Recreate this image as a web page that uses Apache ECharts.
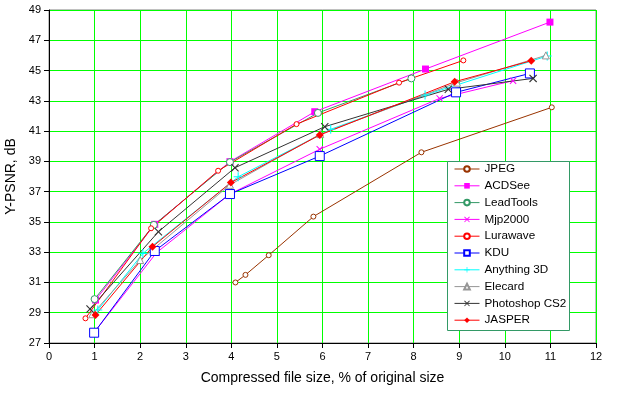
<!DOCTYPE html>
<html>
<head>
<meta charset="utf-8">
<script src="https://cdn.jsdelivr.net/npm/echarts@6/dist/echarts.min.js"></script>
<style>
    html, body { margin: 0; padding: 0; background: #fff; }
    #chart { width: 633px; height: 399px; }
</style>
</head>
<body>
<div id="chart"></div>
<script>
// 数据 (x: 压缩后大小 %, y: Y-PSNR dB)
var jpegX = [4.09, 4.31, 4.82, 5.8, 8.17, 11.03];
var jpegY = [31.0, 31.5, 32.8, 35.35, 39.6, 42.57];
var acdseeX = [1.02, 2.32, 3.97, 5.83, 8.26, 10.99];
var acdseeY = [29.84, 34.84, 38.98, 42.28, 45.1, 48.2];
var leadX = [1.0, 2.3, 3.97, 5.9, 7.95];
var leadY = [29.9, 34.8, 38.95, 42.2, 44.48];
var mjpX = [0.99, 2.36, 3.97, 5.94, 8.57, 10.18];
var mjpY = [27.7, 32.97, 36.84, 39.8, 43.16, 44.33];
var luraX = [0.8, 2.24, 3.71, 5.43, 7.68, 9.09];
var luraY = [28.63, 34.58, 38.38, 41.46, 44.2, 45.67];
var kduX = [0.99, 2.32, 3.97, 5.94, 8.93, 10.55];
var kduY = [27.68, 33.08, 36.84, 39.35, 43.56, 44.81];
var anyX = [1.07, 2.06, 4.15, 6.18, 8.25, 10.93];
var anyY = [29.18, 32.92, 37.98, 41.12, 43.38, 45.96];
var elecX = [0.95, 2.0, 3.97, 5.95, 8.95, 10.9];
var elecY = [28.9, 32.48, 37.45, 40.8, 44.2, 46.0];
var psX = [0.9, 2.4, 4.08, 6.05, 8.76, 10.62];
var psY = [29.25, 34.35, 38.58, 41.29, 43.76, 44.48];
var jasperX = [1.02, 2.27, 3.99, 5.94, 8.9, 10.58];
var jasperY = [28.85, 33.36, 37.6, 40.74, 44.26, 45.65];

var xTicks = [0, 12, 1];
var yTicks = [27, 49, 2];

// 符号
var crossPath = 'path://M0,1L1,0L5,4L9,0L10,1L6,5L10,9L9,10L5,6L1,10L0,9L4,5Z';
var plusPath = 'path://M4.4,0H5.6V4.4H10V5.6H5.6V10H4.4V5.6H0V4.4H4.4Z';

function pairs(xs, ys) {
    var out = [];
    for (var i = 0; i < xs.length; i++) {
        out.push([xs[i], ys[i]]);
    }
    return out;
}

// hollow: 白底 + 1px 描边
function makeSeries(name, xs, ys, color, symbol, size, hollow) {
    return {
        name: name,
        type: 'line',
        data: pairs(xs, ys),
        symbol: symbol,
        symbolSize: size,
        showAllSymbol: true,
        animation: false,
        lineStyle: { color: color, width: 1 },
        itemStyle: hollow
            ? { color: '#fff', borderColor: color, borderWidth: 1 }
            : { color: color, borderWidth: 0 },
        emphasis: { disabled: true }
    };
}

var series = [
    makeSeries('JPEG', jpegX, jpegY, '#993300', 'circle', 5, true),
    makeSeries('ACDSee', acdseeX, acdseeY, '#FF00FF', 'rect', 7, false),
    makeSeries('LeadTools', leadX, leadY, '#339966', 'circle', 7, true),
    makeSeries('Mjp2000', mjpX, mjpY, '#FF00FF', crossPath, 7, false),
    makeSeries('Lurawave', luraX, luraY, '#FF0000', 'circle', 5, true),
    makeSeries('KDU', kduX, kduY, '#0000FF', 'rect', 9, true),
    makeSeries('Anything 3D', anyX, anyY, '#00FFFF', plusPath, 9, false),
    makeSeries('Elecard', elecX, elecY, '#969696', 'triangle', 7, true),
    makeSeries('Photoshop CS2', psX, psY, '#333333', crossPath, 8, false),
    makeSeries('JASPER', jasperX, jasperY, '#FF0000', 'diamond', 8, false)
];

var font = 'Arial, "Liberation Sans", sans-serif';

var option = {
    backgroundColor: '#fff',
    animation: false,
    grid: {
        left: 49, right: 37, top: 10, bottom: 56,
        show: true,
        borderColor: '#808080',
        borderWidth: 1,
        containLabel: false,
        outerBoundsMode: 'none'
    },
    graphic: [{
        type: 'rect',
        shape: { x: 447.5, y: 161.5, width: 122, height: 169 },
        style: { fill: '#fff', stroke: '#339966', lineWidth: 1 },
        z: 3
    }],
    legend: {
        orient: 'vertical',
        left: 454,
        top: 162,
        padding: 0,
        itemWidth: 25,
        itemHeight: 7,
        itemGap: 2.8,
        z: 5,
        lineStyle: { width: 1 },
        textStyle: { fontFamily: font, fontSize: 11.7, color: '#000', lineHeight: 14 },
        data: series.map(function (s) { return s.name; })
    },
    xAxis: {
        type: 'value',
        min: xTicks[0], max: xTicks[1], interval: xTicks[2],
        name: 'Compressed file size, % of original size',
        nameLocation: 'middle',
        nameGap: 28,
        nameTextStyle: { fontFamily: font, fontSize: 14, color: '#000' },
        axisLine: { show: true, onZero: false, lineStyle: { color: '#000', width: 1 } },
        axisTick: { show: true, length: 5, lineStyle: { color: '#000' } },
        axisLabel: { fontFamily: font, fontSize: 11, color: '#000', margin: 8 },
        splitLine: { show: true, lineStyle: { color: '#00FF00', width: 1 } }
    },
    yAxis: {
        type: 'value',
        min: yTicks[0], max: yTicks[1], interval: yTicks[2],
        name: 'Y-PSNR, dB',
        nameLocation: 'middle',
        nameGap: 22,
        nameTextStyle: { fontFamily: font, fontSize: 14, color: '#000' },
        axisLine: { show: true, onZero: false, lineStyle: { color: '#000', width: 1 } },
        axisTick: { show: true, length: 5, lineStyle: { color: '#000' } },
        axisLabel: { fontFamily: font, fontSize: 11, color: '#000', margin: 8 },
        splitLine: { show: true, lineStyle: { color: '#00FF00', width: 1 } }
    },
    series: series
};

var myChart = echarts.init(document.getElementById('chart'), null, { renderer: 'canvas' });
myChart.setOption(option);
</script>
</body>
</html>
